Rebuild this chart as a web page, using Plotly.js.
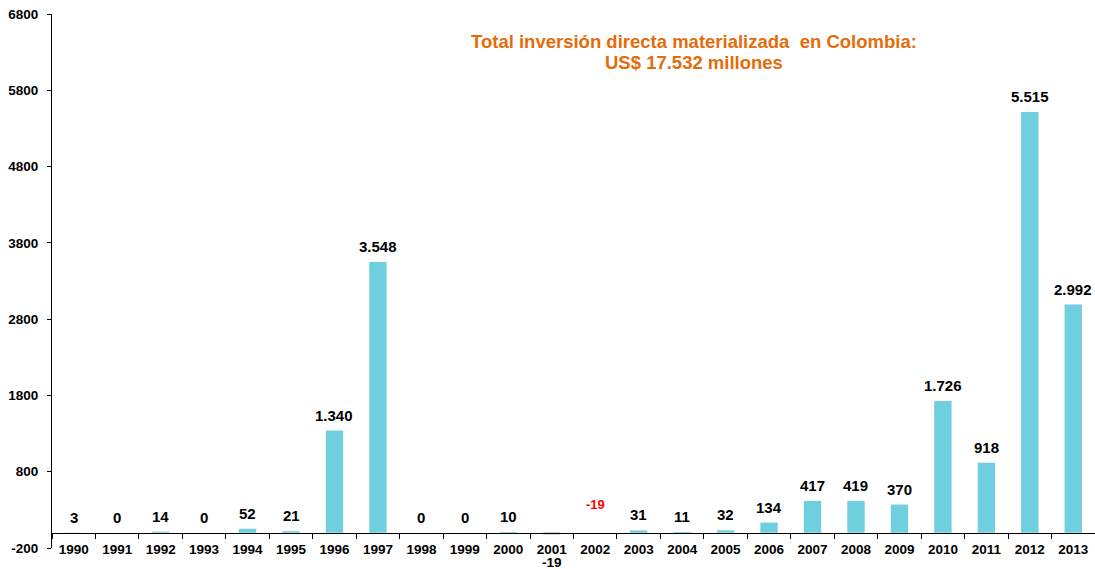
<!DOCTYPE html>
<html>
<head>
<meta charset="utf-8">
<script src="https://cdn.plot.ly/plotly-3.0.1.min.js"></script>
<style>html,body{margin:0;padding:0;background:#fff;}#chart{width:1095px;height:569px;}</style>
</head>
<body>
<div id="chart"></div>
<script>
var years = ['1990','1991','1992','1993','1994','1995','1996','1997','1998','1999','2000','2001','2002','2003','2004','2005','2006','2007','2008','2009','2010','2011','2012','2013'];
var values = [3,0,14,0,52,21,1340,3548,0,0,10,-19,0,31,11,32,134,417,419,370,1726,918,5515,2992];
var labels = ['3','0','14','0','52','21','1.340','3.548','0','0','10','','','31','11','32','134','417','419','370','1.726','918','5.515','2.992'];
var negLabelYear = '2001', negLabelText = '-19';
var redNoteYear = '2002', redNoteText = '-19';
var titleLine1 = 'Total inversión directa materializada  en Colombia:';
var titleLine2 = 'US$ 17.532 millones';
var yTickVals = [-200,800,1800,2800,3800,4800,5800,6800];

var F = 'Liberation Sans, Arial, sans-serif';
var barColors = values.map(function(v){ return v < 0 ? '#404040' : '#70CFDE'; });

var trace = {
  type: 'bar', x: years, y: values,
  marker: {color: barColors, line: {width: 0}},
  hoverinfo: 'x+y'
};

var ann = [];
years.forEach(function(yr, i){
  if (labels[i] === '') return;
  ann.push({x: i, y: Math.max(values[i],0), xref:'x', yref:'y', text: labels[i], showarrow:false,
    yanchor:'bottom', yshift: 5, font:{family:F, size:15, color:'#000', weight:'bold'}});
});
ann.push({x: years.indexOf(negLabelYear), y: 0, xref:'x', yref:'y', text: negLabelText, showarrow:false, yanchor:'middle', yshift:-30,
  font:{family:F, size:13.5, color:'#000', weight:'bold'}});
ann.push({x: years.indexOf(redNoteYear), y: 0, xref:'x', yref:'y', text: redNoteText, showarrow:false, yanchor:'middle', yshift:28,
  font:{family:F, size:13, color:'#FF0000', weight:'bold'}});
ann.push({x: 0.616, y: (548-41)/534, xref:'paper', yref:'paper', text: titleLine1, showarrow:false, yanchor:'middle', xanchor:'center',
  font:{family:F, size:18.5, color:'#E46C0A', weight:'bold'}});
ann.push({x: 0.616, y: (548-62)/534, xref:'paper', yref:'paper', text: titleLine2, showarrow:false, yanchor:'middle', xanchor:'center',
  font:{family:F, size:18.5, color:'#E46C0A', weight:'bold'}});

var layout = {
  width: 1095, height: 569,
  margin: {l:52, r:0, t:14, b:21, pad:0},
  paper_bgcolor:'#fff', plot_bgcolor:'#fff',
  showlegend:false,
  bargap: 0.6,
  font:{family:F, color:'#000'},
  xaxis: {type:'category', range:[-0.5, years.length-0.5], autorange:false, anchor:'free', position: 200/7000,
    showline:true, linecolor:'#000', linewidth:1,
    ticks:'outside', tickson:'boundaries', ticklen:5, tickcolor:'#000', tickwidth:1,
    showgrid:false, zeroline:false, ticklabelstandoff: 4,
    tickfont:{family:F, size:13.5, color:'#000', weight:'bold'}},
  yaxis: {range:[-200,6800], autorange:false, tickvals: yTickVals, ticktext: yTickVals.map(String), showline:true, linecolor:'#000', linewidth:1,
    ticks:'outside', ticklen:4, tickcolor:'#000', showgrid:false, zeroline:false, ticklabelstandoff: 6,
    tickfont:{family:F, size:13.5, color:'#000', weight:'bold'}},
  annotations: ann
};

Plotly.newPlot('chart', [trace], layout, {displayModeBar:false, staticPlot:true});
</script>
</body>
</html>
